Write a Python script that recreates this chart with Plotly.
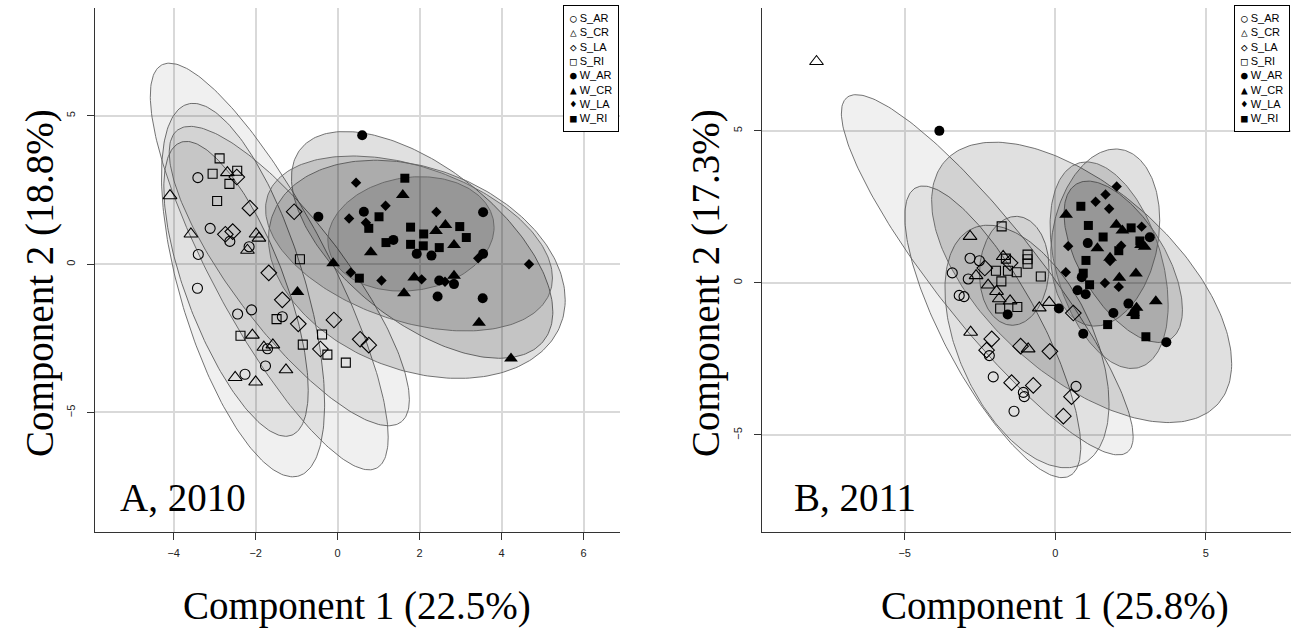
import numpy as np
import plotly.graph_objects as go

groups = ["S_AR", "S_CR", "S_LA", "S_RI", "W_AR", "W_CR", "W_LA", "W_RI"]

# ---------------- Panel A, 2010 ----------------
A_S_AR_x = [-3.41, -3.11, -2.63, -2.16, -3.40, -3.42, -2.44, -2.10, -1.35, -1.71, -1.76, -2.26]
A_S_AR_y = [2.92, 1.21, 0.77, 0.59, 0.33, -0.81, -1.68, -1.54, -1.77, -2.85, -3.43, -3.71]
A_S_CR_x = [-4.09, -2.69, -3.58, -1.99, -1.92, -2.20, -2.08, -1.80, -1.58, -1.26, -2.50, -2.00]
A_S_CR_y = [2.31, 3.09, 1.02, 1.02, 0.88, 0.47, -2.39, -2.80, -2.72, -3.56, -3.82, -3.97]
A_S_LA_x = [-2.46, -2.14, -1.06, -2.74, -2.56, -1.68, -1.35, -0.96, -0.42, -0.09, 0.55, 0.76]
A_S_LA_y = [2.94, 1.89, 1.77, 1.01, 1.10, -0.29, -1.20, -2.01, -2.86, -1.88, -2.53, -2.73]
A_S_RI_x = [-2.88, -3.05, -2.45, -2.64, -2.94, -0.92, -1.49, -2.37, -0.85, -0.38, -0.25, 0.20]
A_S_RI_y = [3.57, 3.05, 3.15, 2.71, 2.13, 0.17, -1.85, -2.41, -2.71, -2.37, -3.05, -3.32]
A_W_AR_x = [0.60, -0.47, 0.64, 3.55, 1.36, 1.93, 2.29, 3.55, 2.48, 2.84, 2.44, 3.54]
A_W_AR_y = [4.35, 1.60, 1.77, 1.75, 0.82, 0.35, 0.29, 0.35, -0.55, -0.67, -1.09, -1.15]
A_W_CR_x = [1.59, 2.63, 2.40, 2.84, 0.81, -0.11, -0.98, 1.87, 2.84, 1.62, 3.45, 4.23]
A_W_CR_y = [2.33, 1.32, 1.12, 0.65, 0.40, 0.03, -0.94, -0.45, -0.39, -0.98, -1.97, -3.18]
A_W_LA_x = [0.45, 1.17, 0.28, 0.69, 2.41, 0.32, 1.07, 2.05, 2.62, 4.67, 3.43]
A_W_LA_y = [2.75, 1.97, 1.54, 1.40, 1.76, -0.28, -0.55, -0.51, -0.59, 0.00, 0.20]
A_W_RI_x = [1.64, 1.01, 0.76, 1.78, 2.10, 2.98, 3.14, 1.18, 1.78, 2.09, 2.48, 0.53]
A_W_RI_y = [2.90, 1.60, 1.21, 1.25, 1.02, 1.27, 0.90, 0.73, 0.67, 0.62, 0.56, -0.47]

# ---------------- Panel B, 2011 ----------------
B_S_AR_x = [-2.83, -2.52, -3.42, -2.89, -3.19, -3.03, -2.19, -2.06, -1.06, -1.03, -1.37, 0.69]
B_S_AR_y = [0.81, 0.73, 0.33, 0.13, -0.41, -0.45, -2.39, -3.09, -3.60, -3.74, -4.22, -3.40]
B_S_CR_x = [-7.93, -2.83, -1.73, -2.63, -2.23, -1.95, -1.86, -1.50, -0.53, -0.20, -2.81, -0.90]
B_S_CR_y = [7.28, 1.53, 0.87, 0.24, -0.07, -0.28, -0.52, -0.59, -0.82, -0.64, -1.62, -2.17]
B_S_LA_x = [-2.34, -1.50, 0.60, -2.11, -2.28, -1.15, -0.18, -1.45, -0.73, 0.54, 0.27]
B_S_LA_y = [0.49, 0.66, -0.99, -1.84, -2.21, -2.08, -2.25, -3.28, -3.37, -3.74, -4.38]
B_S_RI_x = [-1.78, -0.92, -0.92, -0.92, -1.97, -1.57, -1.28, -0.48, -1.79, -1.83, -1.26, -1.64]
B_S_RI_y = [1.86, 0.93, 0.78, 0.63, 0.40, 0.40, 0.35, 0.21, 0.05, -0.84, -0.79, 0.80]
B_W_AR_x = [-3.85, -1.58, 0.12, 0.93, 0.74, 1.01, 0.88, 1.08, 1.93, 2.43, 3.14, 3.69]
B_W_AR_y = [5.00, -1.04, -0.84, -1.67, -0.24, -0.37, 0.19, 1.31, -0.99, -0.68, 1.50, -1.95]
B_W_CR_x = [0.36, 2.03, 2.23, 1.40, 2.85, 2.97, 1.82, 2.13, 2.68, 3.34, 2.70, 2.58]
B_W_CR_y = [2.24, 1.91, 1.72, 1.14, 1.25, 1.19, 0.83, 0.17, 0.31, -0.60, -0.82, -0.99]
B_W_LA_x = [2.04, 1.67, 1.34, 1.79, 2.87, 0.43, 2.19, 1.82, 0.35, 1.65, 2.11]
B_W_LA_y = [3.17, 2.91, 2.67, 2.44, 1.85, 1.21, 1.22, 0.72, 0.35, 0.00, -0.13]
B_W_RI_x = [0.85, 1.10, 1.59, 2.52, 2.81, 2.11, 1.02, 0.93, 1.14, 1.74, 3.01, 2.65]
B_W_RI_y = [2.52, 1.89, 1.51, 1.81, 1.38, 1.06, 0.74, 0.32, -0.06, -1.37, -1.77, -1.04]

x_ticks_A = [-4, -2, 0, 2, 4, 6]
y_ticks_A = [-5, 0, 5]
x_ticks_B = [-5, 0, 5]
y_ticks_B = [-5, 0, 5]

panel_A = {
    "S_AR": (A_S_AR_x, A_S_AR_y), "S_CR": (A_S_CR_x, A_S_CR_y),
    "S_LA": (A_S_LA_x, A_S_LA_y), "S_RI": (A_S_RI_x, A_S_RI_y),
    "W_AR": (A_W_AR_x, A_W_AR_y), "W_CR": (A_W_CR_x, A_W_CR_y),
    "W_LA": (A_W_LA_x, A_W_LA_y), "W_RI": (A_W_RI_x, A_W_RI_y),
}
panel_B = {
    "S_AR": (B_S_AR_x, B_S_AR_y), "S_CR": (B_S_CR_x, B_S_CR_y),
    "S_LA": (B_S_LA_x, B_S_LA_y), "S_RI": (B_S_RI_x, B_S_RI_y),
    "W_AR": (B_W_AR_x, B_W_AR_y), "W_CR": (B_W_CR_x, B_W_CR_y),
    "W_LA": (B_W_LA_x, B_W_LA_y), "W_RI": (B_W_RI_x, B_W_RI_y),
}

symbols = {"S_AR": "circle-open", "S_CR": "triangle-up-open", "S_LA": "diamond-open",
           "S_RI": "square-open", "W_AR": "circle", "W_CR": "triangle-up",
           "W_LA": "diamond", "W_RI": "square"}
sizes = {"S_AR": 10, "S_CR": 12, "S_LA": 12, "S_RI": 9,
         "W_AR": 10, "W_CR": 12, "W_LA": 8, "W_RI": 9}
glyphs = {"S_AR": "\u25CB", "S_CR": "\u25B3", "S_LA": "\u25C7", "S_RI": "\u25A1",
          "W_AR": "\u25CF", "W_CR": "\u25B2", "W_LA": "\u2666", "W_RI": "\u25A0"}

RADIUS = np.sqrt(5.991)  # 95% normal ellipse (chi-square, 2 df)


def ellipse(xs, ys, n=240):
    pts = np.column_stack([xs, ys])
    mu = pts.mean(axis=0)
    cov = np.cov(pts.T)
    L = np.linalg.cholesky(cov)
    t = np.linspace(0, 2 * np.pi, n)
    circ = np.vstack([np.cos(t), np.sin(t)])
    e = mu[:, None] + RADIUS * (L @ circ)
    return e[0], e[1]


fig = go.Figure()

for panel, xa, ya in [(panel_A, "x", "y"), (panel_B, "x2", "y2")]:
    for g in groups:
        ex, ey = ellipse(*panel[g])
        fill = "rgba(0,0,0,0.06)" if g.startswith("S") else "rgba(0,0,0,0.12)"
        fig.add_trace(go.Scatter(x=ex, y=ey, mode="lines", fill="toself",
                                 fillcolor=fill, line=dict(color="rgba(100,100,100,0.9)", width=1),
                                 xaxis=xa, yaxis=ya, showlegend=False, hoverinfo="skip"))
    for g in groups:
        xs, ys = panel[g]
        is_open = symbols[g].endswith("open")
        fig.add_trace(go.Scatter(
            x=xs, y=ys, mode="markers", name=g, showlegend=False,
            marker=dict(symbol=symbols[g], size=sizes[g], color="black",
                        line=dict(color="black", width=1.1 if is_open else 0)),
            xaxis=xa, yaxis=ya))

tickfont = dict(family="Liberation Sans, Arial, sans-serif", size=11, color="#222")
axis_common = dict(showline=True, linecolor="#333", linewidth=1, ticks="outside",
                   ticklen=7, tickcolor="#333", showgrid=True, gridcolor="#d9d9d9",
                   gridwidth=1.5, zeroline=False, tickfont=tickfont, mirror=False)

yb, yt = 1 - 532 / 628, 1 - 8 / 628

fig.update_layout(
    width=1291, height=628,
    margin=dict(l=0, r=0, t=0, b=0),
    paper_bgcolor="white", plot_bgcolor="white",
    showlegend=False,
    xaxis=dict(domain=[95 / 1291, 620 / 1291], range=[-5.92, 6.89],
               tickvals=x_ticks_A, anchor="y", ticklabelstandoff=4, **axis_common),
    yaxis=dict(domain=[yb, yt], range=[-9.03, 8.64], tickvals=y_ticks_A,
               tickangle=-90, anchor="x", ticklabelstandoff=8, **axis_common),
    xaxis2=dict(domain=[762 / 1291, 1.0], range=[-9.74, 7.83],
                tickvals=x_ticks_B, anchor="y2", ticklabelstandoff=4, **axis_common),
    yaxis2=dict(domain=[yb, yt], range=[-8.19, 9.04], tickvals=y_ticks_B,
                tickangle=-90, anchor="x2", ticklabelstandoff=8, **axis_common),
)

# legend boxes: monospace symbol glyph + group name, one bordered text block per panel
legend_text = "<br>".join(
    f"<span style='font-family:DejaVu Sans Mono, monospace'>{glyphs[g]}</span> {g}"
    for g in groups)
legfont = dict(family="Liberation Sans, Arial, sans-serif", size=11, color="black")
for right_px in [619, 1290]:
    fig.add_annotation(xref="paper", yref="paper", x=right_px / 1291, y=1 - 5 / 628,
                       xanchor="right", yanchor="top", align="left", showarrow=False,
                       text=legend_text, font=legfont, bgcolor="white",
                       bordercolor="black", borderwidth=1, borderpad=6)

serif = dict(family="Liberation Serif, Times New Roman, serif", size=39, color="black")
annos = [
    dict(text="Component 1 (22.5%)", x=357 / 1291, y=1 - 606 / 628, textangle=0),
    dict(text="Component 2 (18.8%)", x=40 / 1291, y=1 - 283 / 628, textangle=-90),
    dict(text="Component 1 (25.8%)", x=1055 / 1291, y=1 - 606 / 628, textangle=0),
    dict(text="Component 2 (17.3%)", x=706 / 1291, y=1 - 283 / 628, textangle=-90),
    dict(text="A, 2010", x=183 / 1291, y=1 - 497 / 628, textangle=0),
    dict(text="B, 2011", x=855 / 1291, y=1 - 497 / 628, textangle=0),
]
for a in annos:
    fig.add_annotation(xref="paper", yref="paper", showarrow=False,
                       xanchor="center", yanchor="middle", font=serif, **a)

fig.write_html("out.html")
